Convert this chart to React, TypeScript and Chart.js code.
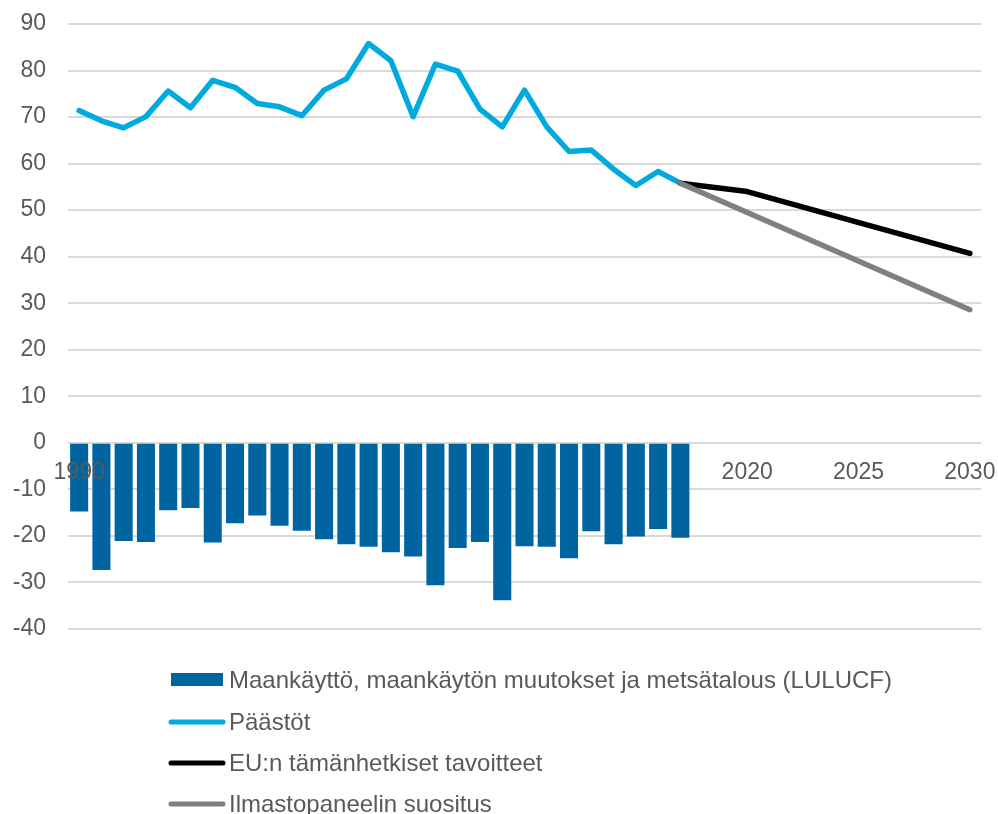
import React, { useEffect, useRef } from "react";
import { Chart, registerables } from "chart.js";

Chart.register(...registerables);

const years = [
  "1990", "1991", "1992", "1993", "1994", "1995", "1996", "1997", "1998", "1999",
  "2000", "2001", "2002", "2003", "2004", "2005", "2006", "2007", "2008", "2009",
  "2010", "2011", "2012", "2013", "2014", "2015", "2016", "2017", "2018", "2019",
  "2020", "2021", "2022", "2023", "2024", "2025", "2026", "2027", "2028", "2029",
  "2030",
];

const shownXTicks = ["1990", "2020", "2025", "2030"];

// 1990–2017
const lulucf = [
  -14.75, -27.3, -21.1, -21.3, -14.5, -14.0, -21.4, -17.3, -15.6, -17.8,
  -18.9, -20.7, -21.8, -22.3, -23.5, -24.4, -30.6, -22.6, -21.3, -33.8,
  -22.2, -22.3, -24.8, -19.0, -21.8, -20.1, -18.5, -20.4,
];

// 1990–2017
const emissions = [
  71.4, 69.2, 67.7, 70.1, 75.6, 72.0, 77.9, 76.4, 72.9, 72.2,
  70.3, 75.8, 78.2, 85.8, 82.1, 70.1, 81.4, 79.9, 71.7, 67.9,
  75.8, 67.9, 62.6, 62.9, 58.8, 55.3, 58.3, 55.8,
];

// known points: year -> value
const euYears = ["2017", "2020", "2030"];
const euValues = [55.8, 54.0, 40.7];

const ipccYears = ["2017", "2030"];
const ipccValues = [55.8, 28.6];

const legendLabels = [
  "Maankäyttö, maankäytön muutokset ja metsätalous (LULUCF)",
  "Päästöt",
  "EU:n tämänhetkiset tavoitteet",
  "Ilmastopaneelin suositus",
];

const COLORS = {
  bar: "#0064a1",
  emissions: "#00aade",
  eu: "#000000",
  ipcc: "#808080",
  text: "#595959",
  grid: "#d9d9d9",
};

const FONT = "'Liberation Sans', Arial, sans-serif";

function pad<T>(arr: T[]): (T | null)[] {
  const out: (T | null)[] = years.map(() => null);
  arr.forEach((v, i) => (out[i] = v));
  return out;
}

function sparse(ys: string[], vs: number[]): (number | null)[] {
  const out: (number | null)[] = years.map(() => null);
  ys.forEach((y, i) => {
    out[years.indexOf(y)] = vs[i];
  });
  return out;
}

const legendPlugin = {
  id: "customLegend",
  afterDraw(chart: any) {
    const ctx = chart.ctx as CanvasRenderingContext2D;
    const base = chart.chartArea.bottom;
    const rowY = [base + 51, base + 93, base + 134, base + 175];
    ctx.save();
    ctx.font = `24px ${FONT}`;
    ctx.textBaseline = "middle";
    ctx.textAlign = "left";
    const kinds = [
      { type: "box", color: COLORS.bar },
      { type: "line", color: COLORS.emissions },
      { type: "line", color: COLORS.eu },
      { type: "line", color: COLORS.ipcc },
    ];
    kinds.forEach((k, i) => {
      const y = rowY[i];
      if (k.type === "box") {
        ctx.fillStyle = k.color;
        ctx.fillRect(171, y - 7, 52, 13);
      } else {
        ctx.strokeStyle = k.color;
        ctx.lineWidth = 5;
        ctx.lineCap = "round";
        ctx.beginPath();
        ctx.moveTo(171, y);
        ctx.lineTo(223, y);
        ctx.stroke();
      }
      ctx.fillStyle = COLORS.text;
      ctx.fillText(legendLabels[i], 229, y + 1);
    });
    ctx.restore();
  },
};

export default function App() {
  const ref = useRef<HTMLCanvasElement>(null);

  useEffect(() => {
    document.body.style.margin = "0";
    const chart = new Chart(ref.current as HTMLCanvasElement, {
      type: "bar",
      data: {
        labels: years,
        datasets: [
          {
            type: "bar",
            label: legendLabels[0],
            data: pad(lulucf),
            backgroundColor: COLORS.bar,
            barPercentage: 0.9,
            categoryPercentage: 0.9,
            order: 4,
          },
          {
            type: "line",
            label: legendLabels[1],
            data: pad(emissions),
            borderColor: COLORS.emissions,
            borderWidth: 5.5,
            pointRadius: 0,
            borderJoinStyle: "round",
            borderCapStyle: "round",
            tension: 0,
            order: 3,
          },
          {
            type: "line",
            label: legendLabels[2],
            data: sparse(euYears, euValues),
            borderColor: COLORS.eu,
            borderWidth: 5.5,
            pointRadius: 0,
            spanGaps: true,
            borderJoinStyle: "round",
            borderCapStyle: "round",
            order: 2,
          },
          {
            type: "line",
            label: legendLabels[3],
            data: sparse(ipccYears, ipccValues),
            borderColor: COLORS.ipcc,
            borderWidth: 5.5,
            pointRadius: 0,
            spanGaps: true,
            borderJoinStyle: "round",
            borderCapStyle: "round",
            order: 1,
          },
        ],
      },
      options: {
        responsive: false,
        animation: false,
        layout: { padding: { top: 24, bottom: 185, left: 0, right: 17 } },
        plugins: {
          legend: { display: false },
          tooltip: { enabled: false },
        },
        scales: {
          x: {
            position: { y: 0 } as any,
            afterFit: (s: any) => {
              s.height = 0;
              s.paddingLeft = 0;
              s.paddingRight = 0;
              s.paddingTop = 0;
              s.paddingBottom = 0;
            },
            grid: { display: false, drawTicks: false },
            border: { display: false },
            ticks: {
              z: 1,
              autoSkip: false,
              maxRotation: 0,
              padding: 16,
              color: COLORS.text,
              font: { family: FONT, size: 23 },
              callback: (_v: any, i: number) =>
                shownXTicks.includes(years[i]) ? years[i] : "",
            },
          } as any,
          y: {
            min: -40,
            max: 90,
            afterFit: (s: any) => {
              s.width = 68;
              s.paddingTop = 0;
              s.paddingBottom = 0;
            },
            grid: { color: COLORS.grid, lineWidth: 2, drawTicks: false },
            border: { display: false },
            ticks: {
              stepSize: 10,
              padding: 22,
              color: COLORS.text,
              font: { family: FONT, size: 23 },
            },
          },
        },
      },
      plugins: [legendPlugin],
    });
    return () => chart.destroy();
  }, []);

  return (
    <div style={{ width: 998, height: 814 }}>
      <canvas ref={ref} width={998} height={814} />
    </div>
  );
}
